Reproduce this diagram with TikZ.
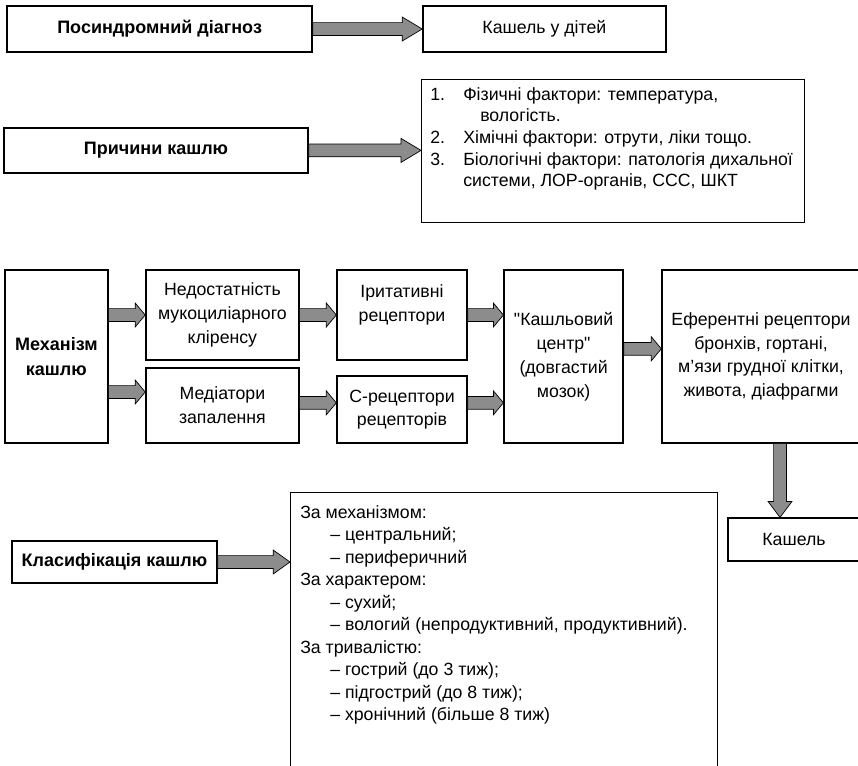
\documentclass[tikz,border=0pt]{standalone}
\usepackage{fontspec}
\setmainfont{Liberation Sans}[Ligatures=TeXOff]
\usetikzlibrary{calc}

% grey block arrow between two points
\newcommand{\shafthw}{0.16cm}
\newcommand{\headhw}{0.3cm}
\newcommand{\fatarrow}[3][0.25cm]{%
  \coordinate (fa-s) at (#2);
  \coordinate (fa-e) at (#3);
  \coordinate (fa-b) at ($(fa-e)!#1!(fa-s)$);
  \filldraw[fat] ($(fa-s)!\shafthw!90:(fa-e)$) -- ($(fa-b)!\shafthw!-90:(fa-s)$)
    -- ($(fa-b)!\headhw!-90:(fa-s)$) -- (fa-e) -- ($(fa-b)!\headhw!90:(fa-s)$)
    -- ($(fa-b)!\shafthw!90:(fa-s)$) -- ($(fa-s)!\shafthw!-90:(fa-e)$) -- cycle;}

\begin{document}
\begin{tikzpicture}[
        box/.style={
            rectangle,
            draw,
            line width=1pt,
            align=center,
            inner sep=0pt,
            font=\fontsize{12.6}{17}\selectfont
        },
        titlebox/.style={
            box,
            font=\fontsize{12.8}{18}\selectfont\bfseries
        },
        listtext/.style={
            align=left,
            inner sep=0pt,
            anchor=north west
        },
        fat/.style={
            draw=black,
            fill=black!45,
            line width=0.5pt
        }
    ]

        \useasboundingbox (0,0) rectangle (21.45,-19.125);

        \node[titlebox, minimum width=7.625cm, minimum height=1.15cm] (diag) at (3.99,-0.725) {Посиндромний діагноз};
        \node[box, minimum width=6.075cm, minimum height=1.15cm] (kids) at (13.61,-0.725) {Кашель у дітей};

        \node[titlebox, minimum width=7.6cm, minimum height=1.125cm] (causes) at (3.9,-3.76) {Причини кашлю};
        \node[box, anchor=north west, minimum width=9.575cm, minimum height=3.575cm] (factors) at (10.525,-1.975) {};
        \node[listtext, font=\fontsize{12.6}{15.4}\selectfont] (factorstext) at ($(factors.north west)+(0.225,-0.2)$) {%
            \makebox[0.825cm][l]{1.}Фізичні фактори: температура,\\
            \hspace*{1.25cm}вологість.\\
            \makebox[0.825cm][l]{2.}Хімічні фактори: отрути, ліки тощо.\\
            \makebox[0.825cm][l]{3.}Біологічні фактори: патологія дихальної\\
            \hspace*{0.825cm}системи, ЛОР-органів, ССС, ШКТ};

        \node[titlebox, minimum width=2.575cm, minimum height=4.325cm] (mech) at (1.41,-8.91) {Механізм\\кашлю};
        \node[box, minimum width=3.825cm, minimum height=2.25cm] (nedo) at (5.56,-7.875) {Недостатність\\мукоциліарного\\кліренсу};
        \node[box, minimum width=3.825cm, minimum height=1.875cm] (medi) at (5.56,-10.14) {Медіатори\\запалення};
        \node[box, minimum width=3.25cm, minimum height=2.25cm] (irit) at (10.05,-7.875) {Іритативні\\рецептори\\\mbox{}};
        \node[box, minimum width=3.25cm, minimum height=1.675cm] (crec) at (10.05,-10.24) {С-рецептори\\рецепторів};
        \node[box, minimum width=2.975cm, minimum height=4.325cm] (centr) at (14.09,-8.91) {"Кашльовий\\центр"\\(довгастий\\мозок)};
        \node[box, minimum width=4.95cm, minimum height=4.325cm] (eff) at (19.025,-8.91) {Еферентні рецептори\\бронхів, гортані,\\м’язи грудної клітки,\\живота, діафрагми};
        \node[box, minimum width=3.3cm, minimum height=1.075cm] (kashel) at (19.85,-13.49) {Кашель};

        \node[titlebox, minimum width=5.125cm, minimum height=1.05cm] (klas) at (2.8625,-14.05) {Класифікація кашлю};
        \node[box, anchor=north west, minimum width=10.675cm, minimum height=7.2cm] (klasbox) at (7.25,-12.3) {};
        \node[listtext, font=\fontsize{12.6}{16}\selectfont] (klastext) at ($(klasbox.north west)+(0.25,-0.33)$) {%
            За механізмом:\\
            \hspace*{0.75cm}– центральний;\\
            \hspace*{0.75cm}– периферичний\\
            За характером:\\
            \hspace*{0.75cm}– сухий;\\
            \hspace*{0.75cm}– вологий (непродуктивний, продуктивний).\\
            За тривалістю:\\
            \hspace*{0.75cm}– гострий (до 3 тиж);\\
            \hspace*{0.75cm}– підгострий (до 8 тиж);\\
            \hspace*{0.75cm}– хронічний (більше 8 тиж)};

        \coordinate (medin) at ($(medi.west)+(0,0.34)$);
        \coordinate (crecin) at ($(crec.west)+(0,0.17)$);
        \coordinate (crecout) at ($(crec.east)+(0,0.17)$);
        \coordinate (centrout) at ($(centr.east)+(0,0.19)$);
        \coordinate (kashin) at ($(kashel.north)+(-0.35,0)$);

        \fatarrow[0.5cm]{diag.east}{kids.west}
        \fatarrow[0.5cm]{causes.east}{causes.east -| factors.west}
        \fatarrow{mech.east |- nedo.west}{nedo.west}
        \fatarrow{mech.east |- medin}{medin}
        \fatarrow{nedo.east}{irit.west}
        \fatarrow{medi.east |- crecin}{crecin}
        \fatarrow{irit.east}{irit.east -| centr.west}
        \fatarrow{crecout}{crecout -| centr.west}
        \fatarrow{centrout}{centrout -| eff.west}
        \fatarrow[0.4cm]{kashin |- eff.south}{kashin}
        \fatarrow[0.42cm]{klas.east}{klas.east -| klasbox.west}

    \end{tikzpicture}
\end{document}
